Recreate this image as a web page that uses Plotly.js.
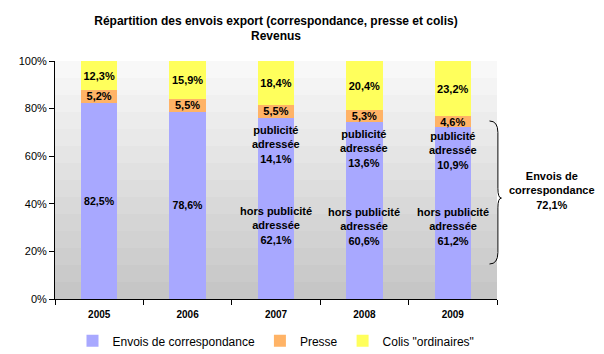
<!DOCTYPE html>
<html><head><meta charset="utf-8">
<script src="https://cdn.plot.ly/plotly-3.0.1.min.js"></script>
<style>html,body{margin:0;padding:0;background:#fff}#c{width:604px;height:354px}</style>
</head><body><div id="c"></div>
<script>
var years = ['2005','2006','2007','2008','2009'];
var correspondance = [82.5, 78.6, 76.2, 74.2, 72.1];
var presse = [5.2, 5.5, 5.5, 5.3, 4.6];
var colis = [12.3, 15.9, 18.4, 20.4, 23.2];
var horsPub = [null, null, 62.1, 60.6, 61.2];
var pubAdr = [null, null, 14.1, 13.6, 10.9];
var totalCorr2009 = 72.1;

function fr(v){ return v.toFixed(1).replace('.', ',') + '%'; }

var FAM = 'Liberation Sans, Arial, sans-serif';
var lblFont = {family:FAM, size:11, color:'#000'};

var traces = [
  {type:'bar', name:'Envois de correspondance', x:years, y:correspondance,
   marker:{color:'#a8a8ff'}, width:0.41,
   text: correspondance.map(function(v,i){ return horsPub[i]===null ? '<b>'+fr(v)+'</b>' : ''; }),
   textposition:'inside', insidetextanchor:'middle', textangle:0, textfont:lblFont,
   hoverinfo:'skip'},
  {type:'bar', name:'Presse', x:years, y:presse, marker:{color:'#ffb366'}, width:0.41,
   text: presse.map(function(v){ return '<b>'+fr(v)+'</b>'; }),
   textposition:'inside', insidetextanchor:'middle', textangle:0, textfont:lblFont,
   constraintext:'none', hoverinfo:'skip'},
  {type:'bar', name:'Colis "ordinaires"', x:years, y:colis, marker:{color:'#ffff5c'}, width:0.41,
   text: colis.map(function(v){ return '<b>'+fr(v)+'</b>'; }),
   textposition:'inside', insidetextanchor:'middle', textangle:0, textfont:lblFont,
   constraintext:'none', hoverinfo:'skip'}
];

var annotations = [];
for (var i=0;i<years.length;i++){
  if (horsPub[i]!==null){
    annotations.push({x:i, y:horsPub[i]/2, xref:'x', yref:'y', showarrow:false,
      text:'<b>hors publicité<br>adressée<br>'+fr(horsPub[i])+'</b>', font:lblFont, align:'center'});
    annotations.push({x:i, y:horsPub[i]+pubAdr[i]/2, yshift:-10, xref:'x', yref:'y', showarrow:false,
      text:'<b>publicité<br>adressée<br>'+fr(pubAdr[i])+'</b>', font:lblFont, align:'center'});
  }
}
annotations.push({x:1.125, xref:'paper', y:45.5, yref:'y', showarrow:false, xanchor:'center',
  text:'<b>Envois de<br>correspondance<br>'+fr(totalCorr2009)+'</b>', font:lblFont, align:'center'});

var shapes = [];
var nb = 14;
for (var k=0;k<nb;k++){
  var t = k/(nb-1);
  var g = Math.round(198 + (248-198)*t);
  shapes.push({type:'rect', xref:'paper', yref:'y', x0:0, x1:1, y0:100*k/nb, y1:100*(k+1)/nb,
    fillcolor:'rgb('+g+','+g+','+g+')', line:{width:0}, layer:'below'});
}
// brace
var xb0 = 0.983, xb1 = 1.002, xb2 = 1.01;
shapes.push({type:'path', xref:'paper', yref:'y',
  path:'M '+xb0+' 74.8 Q '+xb1+' 74.8 '+xb1+' 70 L '+xb1+' 46.5 Q '+xb1+' 42.4 '+xb2+' 42.4 Q '+xb1+' 42.4 '+xb1+' 38.3 L '+xb1+' 19.5 Q '+xb1+' 14.7 '+xb0+' 14.7',
  line:{color:'#000', width:1}});

var layout = {
  width:604, height:354,
  margin:{l:55, r:107, t:61, b:55, autoexpand:false},
  paper_bgcolor:'#fff', plot_bgcolor:'rgba(0,0,0,0)',
  barmode:'stack',
  title:{text:'<b>Répartition des envois export (correspondance, presse et colis)<br>Revenus</b>',
    font:{family:FAM, size:12, color:'#000'},
    x:0.5, xref:'paper', xanchor:'center', y:0.93, yanchor:'top'},
  xaxis:{type:'category', range:[-0.5,4.5], autorange:false, showline:true, linecolor:'#000', linewidth:1,
    ticks:'outside', tickson:'boundaries', ticklen:5, tickcolor:'#000', showgrid:false, tickangle:0,
    ticklabelstandoff:6,
    tickfont:{family:FAM, size:10, color:'#000', weight:'bold'}},
  yaxis:{range:[0,100], autorange:false, tickvals:[0,20,40,60,80,100], ticktext:['0%','20%','40%','60%','80%','100%'],
    showline:true, linecolor:'#000', ticks:'outside', ticklen:5, tickcolor:'#000', showgrid:false, zeroline:false,
    tickfont:{family:FAM, size:11, color:'#000'}},
  legend:{orientation:'h', x:0.5, xanchor:'center', y:-0.115, yanchor:'top',
    font:{family:FAM, size:12, color:'#000'}, traceorder:'normal'},
  showlegend:true,
  annotations:annotations,
  shapes:shapes
};

Plotly.newPlot('c', traces, layout, {staticPlot:true, displayModeBar:false});
</script></body></html>
